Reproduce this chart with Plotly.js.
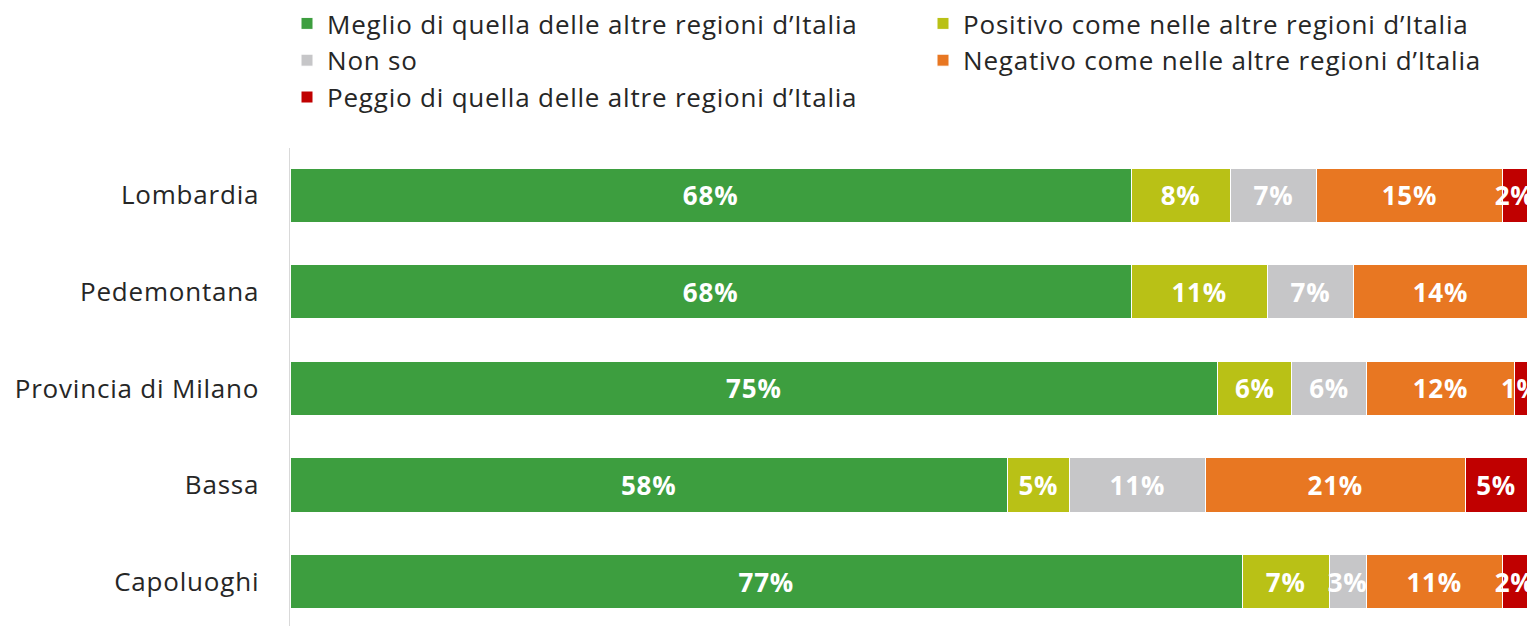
<!DOCTYPE html>
<html>
<head>
<meta charset="utf-8">
<script src="https://cdn.plot.ly/plotly-3.0.1.min.js"></script>
<style>
html,body{margin:0;padding:0;background:#fff;}
#chart{width:1534px;height:626px;}
svg text{letter-spacing:0.8px;}
</style>
</head>
<body>
<div id="chart"></div>
<script>
const categories = ["Lombardia", "Pedemontana", "Provincia di Milano", "Bassa", "Capoluoghi"];
const seriesNames = [
  "Meglio di quella delle altre regioni d’Italia",
  "Positivo come nelle altre regioni d’Italia",
  "Non so",
  "Negativo come nelle altre regioni d’Italia",
  "Peggio di quella delle altre regioni d’Italia"
];
const meglio   = [68, 68, 75, 58, 77];
const positivo = [8, 11, 6, 5, 7];
const nonSo    = [7, 7, 6, 11, 3];
const negativo = [15, 14, 12, 21, 11];
const peggio   = [2, 0, 1, 5, 2];
const colors = ["#3D9E3F", "#B9C116", "#C6C6C8", "#E87722", "#C00000"];
const legendOf = ["legend", "legend2", "legend", "legend2", "legend"];

const FONT = "'Open Sans', Lato, sans-serif";
const series = [meglio, positivo, nonSo, negativo, peggio];
const traces = series.map((vals, i) => ({
  type: "bar",
  orientation: "h",
  name: seriesNames[i],
  legend: legendOf[i],
  legendgroup: "g" + i,
  y: categories,
  x: vals,
  text: vals.map(v => v > 0 ? v + "%" : ""),
  textposition: "inside",
  insidetextanchor: "middle",
  textangle: 0,
  constraintext: "none",
  cliponaxis: true,
  textfont: {family: FONT, size: 26, color: "#ffffff", weight: "bold"},
  marker: {color: colors[i], line: {color: "#ffffff", width: 1}},
  width: 0.56,
  hoverinfo: "none"
}));

const legendBase = {
  orientation: "v",
  xref: "paper", yref: "paper",
  xanchor: "left", yanchor: "top",
  y: 1 + 148 / 478,
  tracegroupgap: 4,
  traceorder: "normal",
  bgcolor: "rgba(0,0,0,0)",
  font: {family: FONT, size: 26, color: "#262626"},
  itemclick: false
};

const layout = {
  width: 1534,
  height: 626,
  barmode: "stack",
  margin: {l: 290, r: 7, t: 148, b: 0},
  paper_bgcolor: "#ffffff",
  plot_bgcolor: "#ffffff",
  showlegend: true,
  legend: Object.assign({}, legendBase, {x: -3 / 1237}),
  legend2: Object.assign({}, legendBase, {x: 633 / 1237}),
  xaxis: {
    range: [0, 100],
    showgrid: false,
    zeroline: false,
    showticklabels: false,
    showline: false,
    fixedrange: true
  },
  yaxis: {
    type: "category",
    range: [4.46, -0.49],
    autorange: false,
    showgrid: false,
    zeroline: false,
    showline: true,
    linecolor: "#D9D9D9",
    linewidth: 1.5,
    ticks: "",
    ticklabelstandoff: 24,
    tickfont: {family: FONT, size: 26, color: "#262626"},
    fixedrange: true
  }
};

Plotly.newPlot("chart", traces, layout, {displayModeBar: false, staticPlot: true});
</script>
</body>
</html>
